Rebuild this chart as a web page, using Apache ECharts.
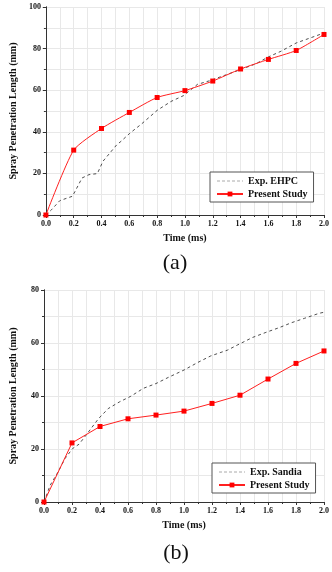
<!DOCTYPE html>
<html>
<head>
<meta charset="utf-8">
<script src="https://cdn.jsdelivr.net/npm/echarts@6/dist/echarts.min.js"></script>
<style>
  html, body { margin: 0; padding: 0; background: #fff; }
  #main { width: 332px; height: 572px; }
</style>
</head>
<body>
<div id="main"></div>
<script>
// Panel (a): simulation vs. EHPC experiment
const timeA = [0.0, 0.2, 0.4, 0.6, 0.8, 1.0, 1.2, 1.4, 1.6, 1.8, 2.0];
const presentA = [0, 31.2, 41.6, 49.3, 56.5, 59.8, 64.4, 70.2, 74.8, 79.1, 86.8];
const expTimeA = [0, 0.04, 0.1, 0.19, 0.21, 0.26, 0.31, 0.37, 0.41, 0.46, 0.51, 0.54, 0.6, 0.69, 0.8, 0.9, 0.99, 1.09, 1.18, 1.3, 1.4, 1.51, 1.6, 1.69, 1.8, 1.9, 2.0];
const expA = [0, 2.5, 6.9, 9.0, 11.4, 17.8, 19.4, 19.9, 25.8, 29.8, 33.8, 35.4, 39.1, 43.9, 50.3, 54.6, 57.4, 62.8, 64.6, 67.5, 69.9, 72.7, 76.0, 78.7, 82.7, 85.1, 87.5];

// Panel (b): simulation vs. Sandia experiment
const timeB = [0.0, 0.2, 0.4, 0.6, 0.8, 1.0, 1.2, 1.4, 1.6, 1.8, 2.0];
const presentB = [0, 22.3, 28.5, 31.4, 32.8, 34.3, 37.2, 40.3, 46.4, 52.3, 57.0];
const expTimeB = [0, 0.044, 0.1, 0.15, 0.205, 0.25, 0.3, 0.39, 0.46, 0.54, 0.62, 0.71, 0.8, 0.895, 1.0, 1.1, 1.19, 1.31, 1.38, 1.49, 1.585, 1.68, 1.77, 1.86, 1.965, 2.0];
const expB = [0, 6.3, 11.3, 16.4, 20.2, 21.8, 25.2, 31.5, 35.3, 37.8, 39.9, 42.9, 44.7, 47.2, 49.8, 52.7, 55.1, 57.3, 59.2, 62.1, 64.0, 65.8, 67.7, 69.3, 71.2, 71.6];

const xTitle = 'Time (ms)';
const yTitle = 'Spray Penetration Length (mm)';
const expNameA = 'Exp. EHPC';
const expNameB = 'Exp. Sandia';
const simName = 'Present Study';

const serif = '"Liberation Serif", "DejaVu Serif", serif';
const axisColor = '#333';
const gridColor = '#e8e8e8';

const pairs = (xs, ys) => xs.map((x, i) => [x, ys[i]]);

const bottomX = (gridIndex, nameGap) => ({
  type: 'value', gridIndex, min: 0, max: 2, interval: 0.2,
  name: xTitle, nameLocation: 'middle', nameGap,
  nameTextStyle: { fontFamily: serif, fontWeight: 'bold', fontSize: 10, color: '#111' },
  axisLine: { show: true, lineStyle: { color: axisColor, width: 1 } },
  axisTick: { show: true, length: 3, lineStyle: { color: axisColor } },
  minorTick: { show: true, splitNumber: 2, length: 2, lineStyle: { color: axisColor } },
  axisLabel: { fontFamily: serif, fontWeight: 'bold', fontSize: 8, color: '#111', margin: 5,
    formatter: (v) => v.toFixed(1) },
  splitLine: { show: true, lineStyle: { color: gridColor, width: 1 } },
  minorSplitLine: { show: true, lineStyle: { color: gridColor, width: 1 } },
});

const topX = (gridIndex) => ({
  type: 'value', gridIndex, min: 0, max: 2, interval: 0.2, position: 'top',
  axisLine: { show: true, lineStyle: { color: axisColor, width: 1 } },
  axisTick: { show: true, inside: true, length: 3, lineStyle: { color: axisColor } },
  axisLabel: { show: false }, splitLine: { show: false },
});

const leftY = (gridIndex, max, nameGap) => ({
  type: 'value', gridIndex, min: 0, max, interval: 20,
  name: yTitle, nameLocation: 'middle', nameGap, nameRotate: 90,
  nameTextStyle: { fontFamily: serif, fontWeight: 'bold', fontSize: 10, color: '#111' },
  axisLine: { show: true, lineStyle: { color: axisColor, width: 1 } },
  axisTick: { show: true, length: 3, lineStyle: { color: axisColor } },
  minorTick: { show: true, splitNumber: 2, length: 2, lineStyle: { color: axisColor } },
  axisLabel: { fontFamily: serif, fontWeight: 'bold', fontSize: 8, color: '#111', margin: 5 },
  splitLine: { show: true, lineStyle: { color: gridColor, width: 1 } },
  minorSplitLine: { show: true, lineStyle: { color: gridColor, width: 1 } },
});

const rightY = (gridIndex, max) => ({
  type: 'value', gridIndex, min: 0, max, interval: 20, position: 'right',
  axisLine: { show: true, lineStyle: { color: axisColor, width: 1 } },
  axisTick: { show: true, inside: true, length: 3, lineStyle: { color: axisColor } },
  axisLabel: { show: false }, splitLine: { show: false },
});

const expSeries = (name, data, xi, yi) => ({
  name, type: 'line', data, xAxisIndex: xi, yAxisIndex: yi,
  showSymbol: false, symbol: 'none',
  lineStyle: { color: '#222', width: 0.8, type: [3, 3] },
  itemStyle: { color: '#999', opacity: 0 },
  z: 3,
});

const simSeries = (data, xi, yi, smooth) => ({
  name: simName, type: 'line', data, xAxisIndex: xi, yAxisIndex: yi,
  smooth, symbol: 'rect', symbolSize: 5,
  lineStyle: { color: '#ff2020', width: 1 },
  itemStyle: { color: '#ff0000' },
  z: 4,
});

const legendBox = (left, top, expName) => ({
  left, top, orient: 'vertical',
  data: [
    { name: expName, itemStyle: { opacity: 0 },
      lineStyle: { color: '#aaa', width: 1, type: [3, 2] } },
    simName,
  ],
  backgroundColor: '#fff',
  borderColor: '#555', borderWidth: 1,
  padding: [4, 6, 3, 6], itemGap: 3,
  itemWidth: 26, itemHeight: 6,
  textStyle: { fontFamily: serif, fontWeight: 'bold', fontSize: 10, color: '#111' },
});

const chart = echarts.init(document.getElementById('main'), null, { renderer: 'canvas' });

chart.setOption({
  animation: false,
  backgroundColor: '#fff',
  title: [
    { text: '(a)', left: 170, top: 247, textAlign: 'center',
      textStyle: { fontFamily: serif, fontWeight: 'normal', fontSize: 22, color: '#111' } },
    { text: '(b)', left: 171, top: 537, textAlign: 'center',
      textStyle: { fontFamily: serif, fontWeight: 'normal', fontSize: 22, color: '#111' } },
  ],
  grid: [
    { left: 44, right: 2, top: 7, height: 208 },
    { left: 40, right: 2, top: 290, height: 212 },
  ],
  xAxis: [bottomX(0, 18), topX(0), bottomX(1, 18), topX(1)],
  yAxis: [leftY(0, 100, 27), rightY(0, 100), leftY(1, 80, 26), rightY(1, 80)],
  legend: [legendBox(210, 172, expNameA), legendBox(212, 463, expNameB)],
  series: [
    expSeries(expNameA, pairs(expTimeA, expA), 0, 0),
    simSeries(pairs(timeA, presentA), 0, 0, 0.2),
    expSeries(expNameB, pairs(expTimeB, expB), 2, 2),
    simSeries(pairs(timeB, presentB), 2, 2, false),
  ],
});
</script>
</body>
</html>
